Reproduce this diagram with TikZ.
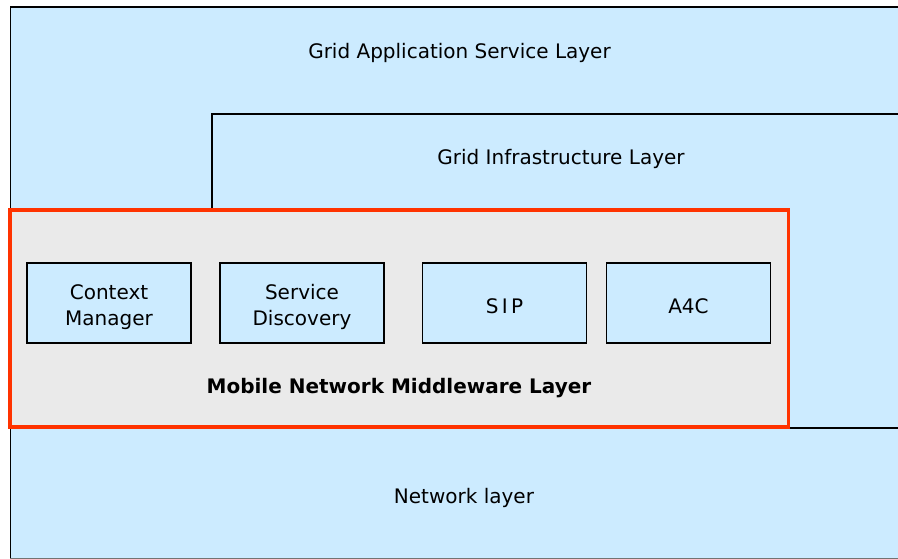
\documentclass[tikz,border=0pt]{standalone}
\usepackage{fontspec}
\setmainfont{DejaVu Sans}
\definecolor{layerblue}{HTML}{CCEBFF}
\definecolor{mwgray}{HTML}{EAEAEA}
\definecolor{mwred}{HTML}{FF3300}
\newcommand{\modstrut}{\rule{0pt}{24pt}}
\tikzset{
  layer/.style   = { draw=black, line width=1.6pt, fill=layerblue },
  middle/.style  = { draw=mwred, line width=3.5pt, fill=mwgray },
  module/.style  = { draw=black, line width=1.3pt, fill=layerblue, minimum width=164pt,
                     minimum height=80pt, inner sep=0pt, align=center,
                     execute at begin node=\rule{0pt}{22pt} },
  title/.style   = { anchor=base, inner sep=0pt }
}

\begin{document}
\begin{tikzpicture}[x=1pt, y=-1pt, font=\fontsize{20}{26}\selectfont]
    \useasboundingbox (0,0) rectangle (898,559);
    \clip (0,0) rectangle (898,559);
    \fill[white] (0,0) rectangle (898,559);

    % layers
    \draw[layer] (10.5,7) rectangle (910,558.3);
    \draw[layer] (212,114) rectangle (910,428);
    \draw[layer] (10.5,428.5) rectangle (910,558.3);
    \draw[black!55, line width=1pt] (10,558.5) -- (910,558.5);
    \draw[middle] (10,210) rectangle (788.5,427);

    \node[title] (app) at (459.5,59) {Grid Application Service Layer};
    \node[title] (infra) at (561,165) {Grid Infrastructure Layer};
    \node[title] (net) at (464,503) {Network layer};
    \node[title, font=\fontsize{20}{26}\bfseries] (mnm) at (399,393) {Mobile Network Middleware Layer};

    % middleware modules
    \node[module] (cm)   at (109,303)   {\modstrut Context\\Manager};
    \node[module] (sd)   at (302,303)   {\modstrut Service\\Discovery};
    \node[module] (sip)  at (504.5,303) {S\,I\,P};
    \node[module] (aaaa) at (688.5,303) {A4C};
\end{tikzpicture}
\end{document}
